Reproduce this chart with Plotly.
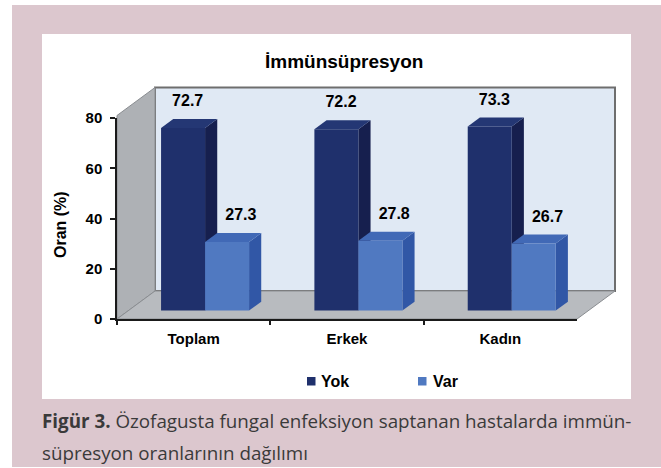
import plotly.graph_objects as go

# ---------------- data ----------------
CATEGORIES = ["Toplam", "Erkek", "Kadın"]
SERIES = ["Yok", "Var"]
YOK = [72.7, 72.2, 73.3]
VAR = [27.3, 27.8, 26.7]
Y_TICKS = [0, 20, 40, 60, 80]
TITLE = "İmmünsüpresyon"
Y_TITLE = "Oran (%)"
CAPTION_BOLD = "Figür 3."
CAPTION_1 = " Özofagusta fungal enfeksiyon saptanan hastalarda immün-"
CAPTION_2 = "süpresyon oranlarının dağılımı"

# ---------------- style / layout constants ----------------
W, H = 661, 468
PX_LEFT, PX_RIGHT = 117, 577      # front plane x extent (px)
PX_Y0, PX_YMAX = 319, 118         # pixel rows of value 0 and of Y max tick
Y_MAX = 80
DEPTH_DX, DEPTH_DY = 38, 28       # oblique depth offset of the box (px)
WALL_TOP = 81
F_FRONT = 0.30                    # depth fraction of bar front faces
BAR_DEPTH = 0.32                  # depth fraction of bars
BAR_W = 0.287                     # bar width in category units
LABEL_GAP = 10.3                  # label distance above bar (value units)
LABEL_DX = [0.03, 0.09]           # label x nudge per series (category units)

FONT = "Liberation Sans, Arial, sans-serif"
CAP_FONT = "Open Sans, sans-serif"
PINK = "#dcc7ce"
FRONT = ["#1f306c", "#5079c1"]
SIDE = ["#161f4e", "#3157a6"]
TOP = ["#243774", "#4169b6"]
BACK_WALL = "#e0e9f4"
SIDE_WALL = "#aeb1b5"
FLOOR = "#b8bbbf"

n = len(CATEGORIES)
s = (PX_RIGHT - PX_LEFT) / n          # px per category
k = (PX_Y0 - PX_YMAX) / Y_MAX         # px per value unit
Dx = DEPTH_DX / s
Dy = DEPTH_DY / k
x_range = [-0.5 - PX_LEFT / s, -0.5 + (W - PX_LEFT) / s]
y_range = [-(H - PX_Y0) / k, PX_Y0 / k]


def poly(pts):
    return "M " + " L ".join(f"{x:.5f},{y:.5f}" for x, y in pts) + " Z"


shapes = []
# background panel and white chart box (paper)
shapes.append(dict(type="rect", xref="paper", yref="paper", x0=12 / W, x1=1, y0=1 - 467 / H, y1=1 - 5 / H,
                   fillcolor=PINK, line=dict(width=0), layer="below"))
shapes.append(dict(type="rect", xref="paper", yref="paper", x0=42 / W, x1=631 / W, y0=1 - 399 / H, y1=1 - 34 / H,
                   fillcolor="white", line=dict(width=0), layer="below"))

xl0, xr0 = -0.5, n - 0.5
# back wall
shapes.append(dict(type="path", xref="x", yref="y", layer="below",
                   path=poly([(xl0 + Dx, Dy), (xl0 + Dx, WALL_TOP + Dy), (xr0 + Dx, WALL_TOP + Dy), (xr0 + Dx, Dy)]),
                   fillcolor=BACK_WALL, line=dict(color="#6e6e6e", width=2)))
# left side wall
shapes.append(dict(type="path", xref="x", yref="y", layer="below",
                   path=poly([(xl0, 0), (xl0, WALL_TOP), (xl0 + Dx, WALL_TOP + Dy), (xl0 + Dx, Dy)]),
                   fillcolor=SIDE_WALL, line=dict(color="#8a8d91", width=1)))
# floor
shapes.append(dict(type="path", xref="x", yref="y", layer="below",
                   path=poly([(xl0, 0), (xr0, 0), (xr0 + Dx, Dy), (xl0 + Dx, Dy)]),
                   fillcolor=FLOOR, line=dict(color="#8a8d91", width=1)))

fig = go.Figure()
values = [YOK, VAR]
base = F_FRONT * Dy
ddx, ddy = BAR_DEPTH * Dx, BAR_DEPTH * Dy
for i in range(n):
    for j in range(len(SERIES)):
        v = values[j][i]
        xl = i + F_FRONT * Dx + (j - 1) * BAR_W
        xr = xl + BAR_W
        top = v + base
        shapes.append(dict(type="path", xref="x", yref="y", layer="below",
                           path=poly([(xr, base), (xr, top), (xr + ddx, top + ddy), (xr + ddx, base + ddy)]),
                           fillcolor=SIDE[j], line=dict(width=0)))
        shapes.append(dict(type="path", xref="x", yref="y", layer="below",
                           path=poly([(xl, top), (xr, top), (xr + ddx, top + ddy), (xl + ddx, top + ddy)]),
                           fillcolor=TOP[j], line=dict(width=0)))

for j, name in enumerate(SERIES):
    xs = [i + F_FRONT * Dx + (j - 0.5) * BAR_W for i in range(n)]
    fig.add_trace(go.Bar(x=xs, y=values[j], base=[base] * n, width=BAR_W, name=name,
                         marker=dict(color=FRONT[j], line=dict(width=0)), showlegend=False,
                         hoverinfo="skip"))
    fig.add_trace(go.Scatter(
        x=[x + LABEL_DX[j] for x in xs],
        y=[v + base + LABEL_GAP for v in values[j]],
        text=[f"{v:.1f}" for v in values[j]], mode="text", textposition="middle center",
        textfont=dict(family=FONT, size=16, color="black", weight="bold"),
        cliponaxis=False, showlegend=False, hoverinfo="skip"))

# display axes subplot (front plane)
fig.add_trace(go.Scatter(x=CATEGORIES, y=[0] * n, xaxis="x2", yaxis="y2", mode="markers",
                         marker=dict(opacity=0), showlegend=False, hoverinfo="skip"))

annotations = [
    dict(text=f"<b>{TITLE}</b>", x=343.5 / W, y=1 - 62 / H, xref="paper", yref="paper",
         showarrow=False, xanchor="center", yanchor="middle", font=dict(family=FONT, size=19, color="black")),
    dict(text=f"<b>{Y_TITLE}</b>", x=60 / W, y=1 - 225 / H, xref="paper", yref="paper", textangle=-90,
         showarrow=False, xanchor="center", yanchor="middle", font=dict(family=FONT, size=16, color="black")),
    dict(text=f"<b>{CAPTION_BOLD}</b>{CAPTION_1}", x=40 / W, y=1 - 421 / H, xref="paper", yref="paper",
         showarrow=False, xanchor="left", yanchor="middle", font=dict(family=CAP_FONT, size=18.8, color="#3a3a3a")),
    dict(text=CAPTION_2, x=40 / W, y=1 - 453 / H, xref="paper", yref="paper",
         showarrow=False, xanchor="left", yanchor="middle", font=dict(family=CAP_FONT, size=18.8, color="#3a3a3a")),
]
# manual legend
LEG_SQ_X = [307, 418]
LEG_TXT_X = [319, 431]
LEG_Y = 381
for j, name in enumerate(SERIES):
    shapes.append(dict(type="rect", xref="paper", yref="paper",
                       x0=LEG_SQ_X[j] / W, x1=(LEG_SQ_X[j] + 8.5) / W,
                       y0=1 - (LEG_Y + 4.5) / H, y1=1 - (LEG_Y - 4) / H,
                       fillcolor=FRONT[j], line=dict(width=0), layer="above"))
    annotations.append(dict(text=f"<b>{name}</b>", x=LEG_TXT_X[j] / W, y=1 - LEG_Y / H,
                            xref="paper", yref="paper", showarrow=False, xanchor="left", yanchor="middle",
                            font=dict(family=FONT, size=16, color="black")))

fig.update_layout(
    width=W, height=H, autosize=False,
    margin=dict(l=0, r=0, t=0, b=0, pad=0, autoexpand=False),
    paper_bgcolor="white", plot_bgcolor="rgba(0,0,0,0)",
    barmode="overlay", showlegend=False, hovermode=False,
    shapes=shapes, annotations=annotations,
    xaxis=dict(domain=[0, 1], range=x_range, visible=False, fixedrange=True, automargin=False),
    yaxis=dict(domain=[0, 1], range=y_range, visible=False, fixedrange=True, automargin=False),
    xaxis2=dict(domain=[PX_LEFT / W, PX_RIGHT / W], anchor="y2", type="category", automargin=False,
                categoryorder="array", categoryarray=CATEGORIES, range=[-0.5, n - 0.5], fixedrange=True,
                showline=True, linecolor="#1a1a1a", linewidth=1.5, ticks="outside", tickson="boundaries",
                ticklen=4, tickcolor="#1a1a1a", tickwidth=1.5, showgrid=False, zeroline=False,
                ticklabelstandoff=5, tickfont=dict(family=FONT, size=15, color="black", weight="bold")),
    yaxis2=dict(domain=[1 - PX_Y0 / H, 1 - PX_YMAX / H], anchor="x2", range=[0, Y_MAX], automargin=False,
                tickvals=Y_TICKS, showline=True, linecolor="#1a1a1a", linewidth=1.5, ticks="outside",
                ticklen=5, tickcolor="#1a1a1a", tickwidth=1.5, showgrid=False, zeroline=False, fixedrange=True,
                ticklabelstandoff=5, tickfont=dict(family=FONT, size=15, color="black", weight="bold")),
)

fig.write_html("out.html", config={"displayModeBar": False},
               post_script="document.body.style.margin='0';")
